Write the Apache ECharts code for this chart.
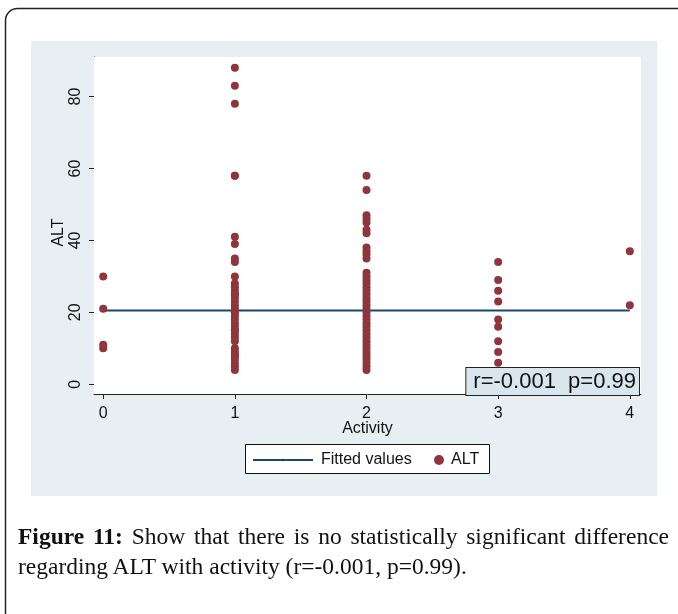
<!DOCTYPE html>
<html>
<head>
<meta charset="utf-8">
<script src="https://cdn.jsdelivr.net/npm/echarts@6/dist/echarts.min.js"></script>
<style>
  html, body { margin: 0; padding: 0; background: #fff; }
  #wrap { position: relative; width: 678px; height: 614px; overflow: hidden; }
  #chart { position: absolute; left: 0; top: 0; width: 678px; height: 614px; }
  #caption {
    position: absolute; left: 18px; top: 521px; width: 651px;
    font-family: "Liberation Serif", "DejaVu Serif", serif; font-size: 23.5px;
    line-height: 30px; color: #111; text-align: justify;
  }
  #caption b { font-weight: bold; }
</style>
</head>
<body>
<div id="wrap">
  <div id="chart"></div>
  <div id="caption"><b>Figure 11:</b> Show that there is no statistically significant difference regarding ALT with activity (r=-0.001, p=0.99).</div>
</div>
<script>
// ALT values, one list per activity level
var activity = [0, 1, 2, 3, 4];
var alt0 = [30, 21, 11, 10];
var alt1 = [88, 83, 78, 58, 58, 41, 39, 35, 34, 30, 28, 27, 26, 25, 25, 24, 23, 22, 21, 20, 20, 19, 18, 17, 16, 15, 15, 14, 13, 12, 10, 9, 8, 8, 7, 6, 5, 4];
var alt2 = [58, 54, 47, 46, 45, 43, 42, 38, 37, 36, 35, 31, 30, 29, 28, 27, 26, 25, 24, 23, 22, 21, 20, 19, 18, 17, 16, 15, 14, 13, 12, 11, 10, 9, 8, 7, 6, 5, 4];
var alt3 = [34, 29, 26, 23, 18, 16, 12, 9, 6];
var alt4 = [37, 22];
var fitX = [0, 4];
var fitY = [20.5, 20.5];
var yTicks = [0, 20, 40, 60, 80];
var statText = 'r=-0.001  p=0.99';

var groups = [alt0, alt1, alt2, alt3, alt4];
var points = [];
groups.forEach(function(g, i){
	g.forEach(function(v){ points.push([activity[i], v]); });
});
var fitData = fitX.map(function(x, i){ return [x, fitY[i]]; });

var myChart = echarts.init(document.getElementById('chart'));
var option = {
	animation: false,
	backgroundColor: '#fff',
	textStyle: { fontFamily: 'Liberation Sans, Arial, sans-serif' },
	grid: {
		left: 94, right: 37, top: 57, bottom: 220,
		show: true, backgroundColor: '#fff', borderWidth: 0, z: 1
	},
	xAxis: {
		type: 'value', min: -0.07, max: 4.085,
		name: 'Activity', nameLocation: 'middle', nameGap: 27, nameMoveOverlap: false,
		nameTextStyle: { fontSize: 16, color: '#111' },
		axisLine: { show: true, onZero: false, lineStyle: { color: '#222', width: 1 } },
		axisTick: { show: true, length: 5, customValues: activity, lineStyle: { color: '#222' } },
		axisLabel: { customValues: activity, fontSize: 16, color: '#111', margin: 12 },
		splitLine: { show: false }
	},
	yAxis: {
		type: 'value', min: -2.7, max: 91,
		name: 'ALT', nameLocation: 'middle', nameGap: 27, nameMoveOverlap: false,
		nameTextStyle: { fontSize: 16, color: '#111', padding: [0, 14, 0, 0] },
		axisLine: { show: true, onZero: false, lineStyle: { color: '#222', width: 1 } },
		axisTick: { show: true, length: 5, customValues: yTicks, lineStyle: { color: '#222' } },
		axisLabel: { customValues: yTicks, rotate: 90, fontSize: 16, color: '#111', margin: 10 },
		splitLine: { show: true, lineStyle: { color: '#e3ecef', width: 1.5 } }
	},
	legend: [{
		data: ['Fitted values'], left: 252, top: 452, z: 20,
		itemWidth: 60, itemHeight: 3, padding: 0,
		textStyle: { fontSize: 16, color: '#111', padding: [0, 0, 0, 3] }
	}, {
		data: ['ALT'], left: 434, top: 452, z: 20,
		icon: 'circle', itemWidth: 10, itemHeight: 10, itemGap: 6, padding: 0,
		textStyle: { fontSize: 16, color: '#111', padding: [0, 0, 0, 2] }
	}],
	graphic: [
		{ type: 'rect', z: -10, shape: { x: 5.5, y: 8.5, width: 720, height: 720, r: 12 },
		  style: { fill: '#fff', stroke: '#222', lineWidth: 1.5 } },
		{ type: 'rect', z: -5, shape: { x: 31, y: 41, width: 626, height: 455 },
		  style: { fill: '#e8eff2' } },
		{ type: 'rect', z: 2, shape: { x: 245.5, y: 444.5, width: 244, height: 29 },
		  style: { fill: '#fff', stroke: '#111', lineWidth: 1 } },
		{ type: 'text', z: 50, right: 38, top: 367,
		  style: { text: statText, font: '22px "Liberation Sans", Arial, sans-serif', fill: '#111',
		    backgroundColor: '#d9e6ee', borderColor: '#222', borderWidth: 1, padding: [3, 3, 2, 7] } }
	],
	series: [{
		name: 'Fitted values', type: 'line', data: fitData,
		showSymbol: false, symbol: 'none', z: 3,
		lineStyle: { color: '#1a476f', width: 2 }, itemStyle: { color: '#1a476f' }
	}, {
		name: 'ALT', type: 'scatter', data: points,
		symbolSize: 8, z: 4,
		itemStyle: { color: '#90353b', opacity: 1 }
	}]
};
myChart.setOption(option);
</script>
</body>
</html>
